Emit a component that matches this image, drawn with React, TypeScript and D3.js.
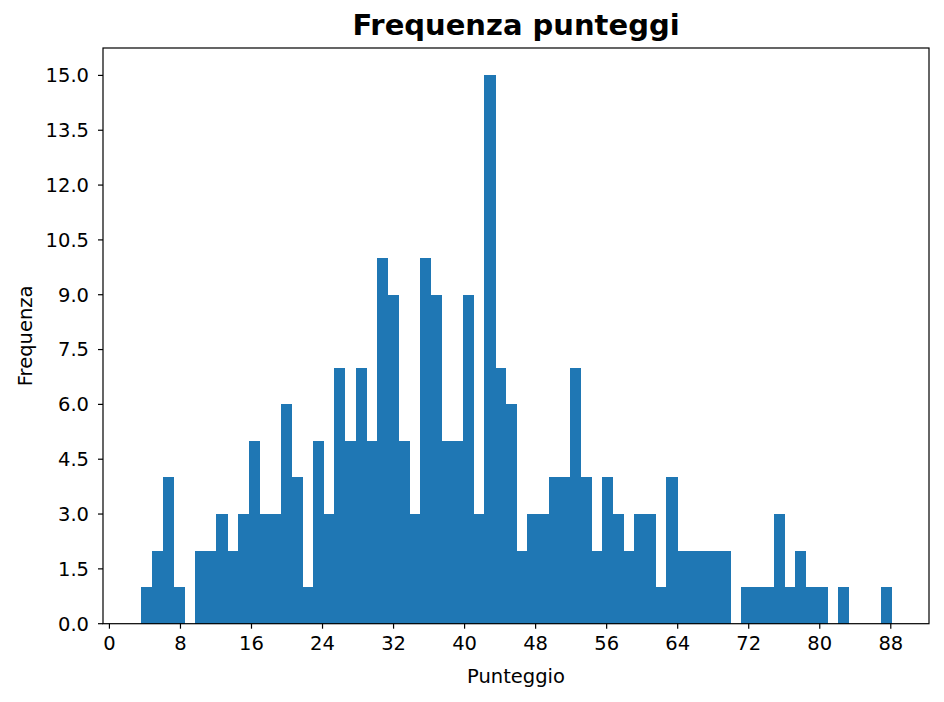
import React from "react";
import * as d3 from "d3";

// Histogram counts (70 equal-width bins)
const counts: number[] = [
  1, 2, 4, 1, 0, 2, 2, 3, 2, 3,
  5, 3, 3, 6, 4, 1, 5, 3, 7, 5,
  7, 5, 10, 9, 5, 3, 10, 9, 5, 5,
  9, 3, 15, 7, 6, 2, 3, 3, 4, 4,
  7, 4, 2, 4, 3, 2, 3, 3, 1, 4,
  2, 2, 2, 2, 2, 0, 1, 1, 1, 3,
  1, 2, 1, 1, 0, 1, 0, 0, 0, 1,
];
const binStart = 3.6;
const binEnd = 88.08;
const xTicks: number[] = [0, 8, 16, 24, 32, 40, 48, 56, 64, 72, 80, 88];
const yTicks: number[] = [0, 1.5, 3, 4.5, 6, 7.5, 9, 10.5, 12, 13.5, 15];
const title = "Frequenza punteggi";
const xLabel = "Punteggio";
const yLabel = "Frequenza";

const W = 944;
const H = 702;
const L = 103;
const R = 929;
const T = 48;
const B = 623.7;
const FONT = "'DejaVu Sans', sans-serif";

export default function App() {
  const bw = (binEnd - binStart) / counts.length;
  const span = binEnd - binStart;
  const x = d3
    .scaleLinear()
    .domain([binStart - span * 0.05 - 0.1, binEnd + span * 0.05])
    .range([L, R]);
  const yMax = d3.max(counts) as number;
  const y = d3.scaleLinear().domain([0, yMax * 1.05]).range([B, T]);
  const bins = counts.map((c, i) => ({ x0: binStart + i * bw, x1: binStart + (i + 1) * bw, c }));

  return (
    <svg
      width={W}
      height={H}
      style={{ position: "absolute", left: 0, top: 0, background: "#fff" }}
      fontFamily={FONT}
    >
      <rect x={0} y={0} width={W} height={H} fill="#fff" />
      <g shapeRendering="crispEdges">
        {bins.map((b, i) =>
          b.c > 0 ? (
            <rect
              key={i}
              x={x(b.x0)}
              y={y(b.c)}
              width={x(b.x1) - x(b.x0) + 0.5}
              height={B - y(b.c)}
              fill="#1f77b4"
            />
          ) : null
        )}
      </g>
      {/* spines */}
      <rect x={L} y={T} width={R - L} height={B - T} fill="none" stroke="#000" strokeWidth={1.2} />
      {/* x ticks */}
      {xTicks.map((t) => (
        <g key={"x" + t} transform={`translate(${x(t)},${B})`}>
          <line y1={0} y2={5} stroke="#000" strokeWidth={1.2} />
          <text y={26} textAnchor="middle" fontSize={19.5} fill="#000">
            {t}
          </text>
        </g>
      ))}
      {/* y ticks */}
      {yTicks.map((t) => (
        <g key={"y" + t} transform={`translate(${L},${y(t)})`}>
          <line x1={0} x2={-5} stroke="#000" strokeWidth={1.2} />
          <text x={-14} dy="0.35em" textAnchor="end" fontSize={19.5} fill="#000">
            {t.toFixed(1)}
          </text>
        </g>
      ))}
      <text x={(L + R) / 2} y={683} textAnchor="middle" fontSize={19.5} fill="#000">
        {xLabel}
      </text>
      <text
        transform={`translate(32,${(T + B) / 2}) rotate(-90)`}
        textAnchor="middle"
        fontSize={19.5}
        fill="#000"
      >
        {yLabel}
      </text>
      <text
        x={(L + R) / 2}
        y={35}
        textAnchor="middle"
        fontSize={29}
        fontWeight="bold"
        fill="#000"
      >
        {title}
      </text>
    </svg>
  );
}
